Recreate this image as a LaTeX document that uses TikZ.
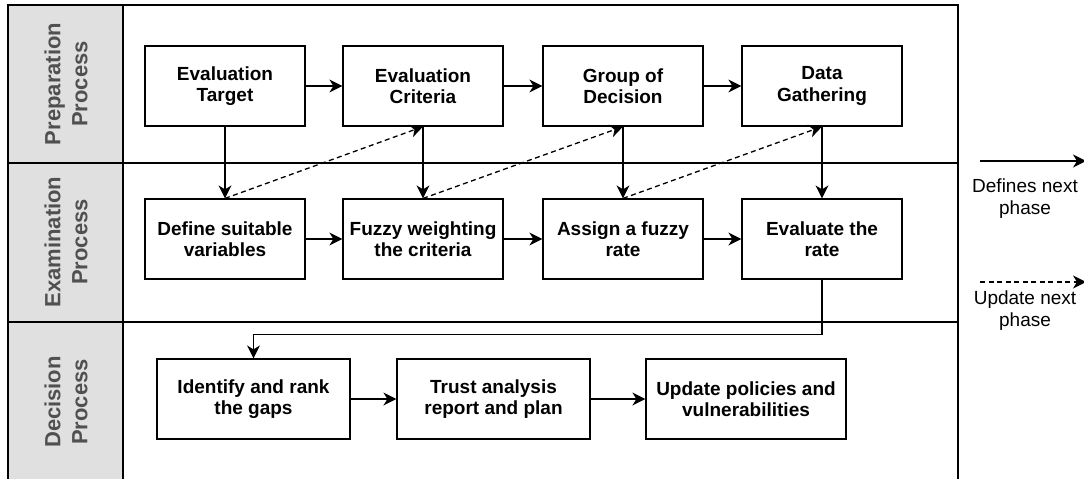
\documentclass[tikz,border=0pt]{standalone}
\usepackage{fontspec}
\setmainfont{Liberation Sans}
\usetikzlibrary{arrows.meta}
\definecolor{lanefill}{HTML}{E0E0E0}
\definecolor{lanetext}{HTML}{505050}
\begin{document}
\begin{tikzpicture}[x=1pt,y=-1pt,
  stepbox/.style={draw, line width=1.2pt, minimum height=80pt, inner sep=0pt,
    align=center, font=\fontsize{19}{21.5}\selectfont\bfseries},
  lanelabel/.style={rotate=90, align=center, text=lanetext,
    font=\fontsize{22}{27}\selectfont\bfseries},
  frame/.style={line width=1.2pt},
  tip/.style={-{Stealth[length=13pt,width=13pt,inset=4pt]}},
  flow/.style={tip, line width=1.6pt},
  drop/.style={tip, line width=1.3pt},
  upd/.style={tip, line width=1.3pt, dash pattern=on 5pt off 3.5pt},
  legtext/.style={align=center, font=\fontsize{19}{22}\selectfont}
]
\useasboundingbox (0,0) rectangle (1084,479);

% swimlane frame and label column
\fill[lanefill] (8,5) rectangle (123,479);
\draw[frame] (8,479) -- (8,5) -- (958,5) -- (958,479);
\draw[frame] (123,5) -- (123,479);
\draw[frame] (8,163) -- (958,163);
\draw[frame] (8,322) -- (958,322);

\node[lanelabel] (lp) at (66,84) {Preparation\\Process};
\node[lanelabel] (le) at (66,242) {Examination\\Process};
\node[lanelabel] (ld) at (66,402) {Decision\\Process};

% preparation steps
\node[stepbox, minimum width=160pt] (p1) at (225,86) {Evaluation\\Target};
\node[stepbox, minimum width=160pt] (p2) at (423,86) {Evaluation\\Criteria};
\node[stepbox, minimum width=160pt] (p3) at (623,86) {Group of\\Decision};
\node[stepbox, minimum width=160pt] (p4) at (822,86) {Data\\Gathering};

% examination steps
\node[stepbox, minimum width=160pt] (e1) at (225,239) {Define suitable\\variables};
\node[stepbox, minimum width=160pt] (e2) at (423,239) {Fuzzy weighting\\the criteria};
\node[stepbox, minimum width=160pt] (e3) at (623,239) {Assign a fuzzy\\rate};
\node[stepbox, minimum width=160pt] (e4) at (822,239) {Evaluate the\\rate};

% decision steps
\node[stepbox, minimum width=193pt] (d1) at (253.5,399) {Identify and rank\\the gaps};
\node[stepbox, minimum width=193pt] (d2) at (493.5,399) {Trust analysis\\report and plan};
\node[stepbox, minimum width=200pt] (d3) at (746,399) {Update policies and\\vulnerabilities};

% horizontal flow
\draw[flow] (p1) -- (p2);
\draw[flow] (p2) -- (p3);
\draw[flow] (p3) -- (p4);
\draw[flow] (e1) -- (e2);
\draw[flow] (e2) -- (e3);
\draw[flow] (e3) -- (e4);
\draw[flow] (d1) -- (d2);
\draw[flow] (d2) -- (d3);

% phase to phase
\draw[drop] (p1.south) -- (e1.north);
\draw[drop] (p2.south) -- (e2.north);
\draw[drop] (p3.south) -- (e3.north);
\draw[drop] (p4.south) -- (e4.north);
\draw[drop] (e4.south) -- ++(0,55) -| (d1.north);

% feedback updates
\draw[upd] (e1.north) -- (p2.south);
\draw[upd] (e2.north) -- (p3.south);
\draw[upd] (e3.north) -- (p4.south);

% legend
\coordinate (ls0) at (980,161);
\coordinate (ls1) at (1086,161);
\coordinate (lu0) at (980,282);
\coordinate (lu1) at (1086,282);
\draw[drop] (ls0) -- (ls1);
\draw[upd] (lu0) -- (lu1);
\node[legtext] (lt1) at (1025,199) {Defines next\\phase};
\node[legtext] (lt2) at (1025,311) {Update next\\phase};
\end{tikzpicture}
\end{document}
